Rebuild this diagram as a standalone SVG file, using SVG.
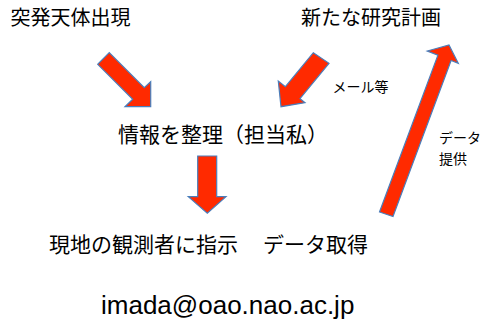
<svg xmlns="http://www.w3.org/2000/svg" width="481" height="324" viewBox="0 0 481 324">
<style>
.t{font-family:"Noto Sans CJK JP","Liberation Sans",sans-serif;fill:#000}
.l{font-size:20px}
.m{font-size:21px}
.s{font-size:14px}
.e{font-family:"Liberation Sans",Arial,sans-serif;font-size:26px;fill:#000}
.a{fill:#FF2A00;stroke:#4A7EBB;stroke-width:1.2;stroke-linejoin:miter}
</style>
<rect width="481" height="324" fill="#fff"/>
<g id="connectors">
<polygon class="a" points="109.3,52.7 144.3,87.7 150.7,81.7 150.7,106.7 125,106.7 132.7,99.3 97.7,64.3"/>
<polygon class="a" points="313.3,52.7 329,63.3 300,98.6 305,102.7 281,106.7 278.3,81 285.4,86.7"/>
<polygon class="a" points="197.7,156 216.7,156 216.7,196.7 226,196.7 207.3,213.3 188.3,196.7 197.7,196.7"/>
<polygon class="a" points="379.5,212 437.9,55.2 427.3,51 449,45 458.3,63.3 451.1,60.5 393,216.5"/>
<text class="t s" x="332.5" y="92">メール等</text>
<text class="t s" x="439" y="143">データ</text>
<text class="t s" x="439" y="164">提供</text>
</g>
<g id="n1"><text class="t l" x="10.5" y="25">突発天体出現</text></g>
<g id="n2"><text class="t l" x="301" y="25">新たな研究計画</text></g>
<g id="n3"><text class="t m" x="118" y="142">情報を整理（担当私）</text></g>
<g id="n4"><text class="t m" x="49" y="251.5">現地の観測者に指示<tspan x="263">データ取得</tspan></text></g>
<g id="n5"><text class="e" x="101" y="314">imada@oao.nao.ac.jp</text></g>
</svg>
